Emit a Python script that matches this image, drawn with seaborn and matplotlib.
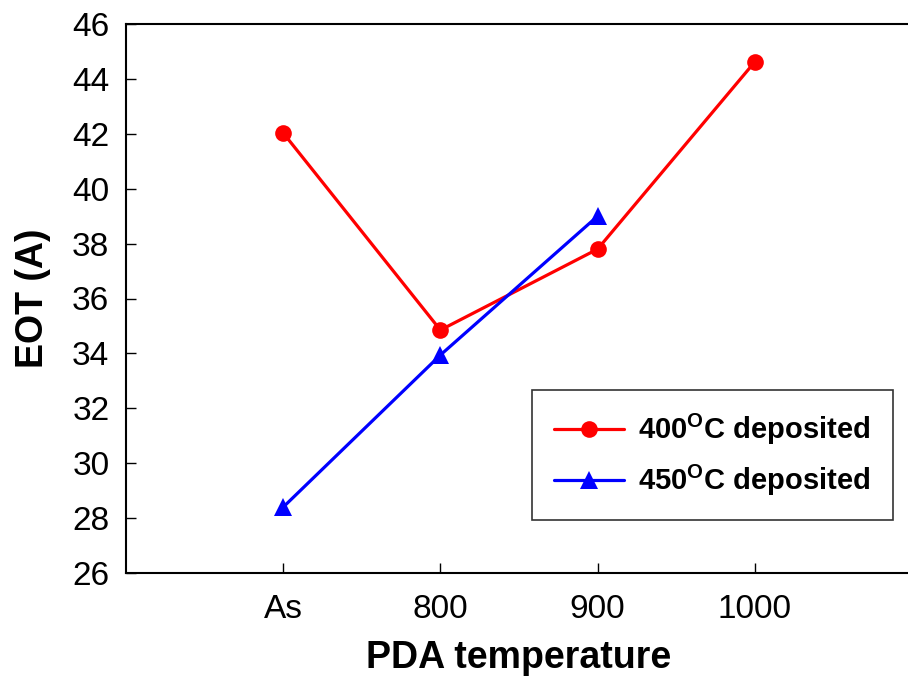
import matplotlib
matplotlib.use("Agg")
import matplotlib.pyplot as plt
import seaborn as sns
import pandas as pd

categories = ["As", "800", "900", "1000"]
eot_400 = [42.03, 34.85, 37.8, 44.62]
eot_450 = [28.4, 33.94, 39.0]
labels = ["400$^{\\mathbf{O}}$C deposited", "450$^{\\mathbf{O}}$C deposited"]
yticks = list(range(26, 47, 2))

sns.set_theme(style="white")
plt.rcParams['font.family'] = ['Liberation Sans', 'DejaVu Sans']
plt.rcParams['mathtext.fontset'] = 'custom'
plt.rcParams['mathtext.bf'] = 'Liberation Sans:bold'
plt.rcParams['mathtext.rm'] = 'Liberation Sans:bold'
plt.rcParams['text.color'] = 'black'
plt.rcParams['axes.labelcolor'] = 'black'
plt.rcParams['xtick.color'] = 'black'
plt.rcParams['ytick.color'] = 'black'

df1 = pd.DataFrame({"x": list(range(len(eot_400))), "y": eot_400})
df2 = pd.DataFrame({"x": list(range(len(eot_450))), "y": eot_450})

fig = plt.figure(figsize=(9.08, 6.82), dpi=100)
ax = fig.add_axes([126/908, 1 - 573/682, (912-126)/908, (573-24)/682])

sns.lineplot(data=df1, x="x", y="y", ax=ax, color="#ff0000", marker="o",
             markersize=12, markeredgewidth=0, linewidth=2.3, label=labels[0])
sns.lineplot(data=df2, x="x", y="y", ax=ax, color="#0000ff", marker="^",
             markersize=13, markeredgewidth=0, linewidth=2.3, label=labels[1])

ax.set_xlim(-1, 4)
ax.set_ylim(26, 46)
ax.set_xticks(range(len(categories)))
ax.set_xticklabels(categories)
ax.set_yticks(yticks)
ax.tick_params(direction="in", length=7, width=1, labelsize=24,
               bottom=True, left=True, top=False, right=False, colors="black")
ax.tick_params(axis="x", pad=15)
ax.tick_params(axis="y", pad=12)
for s in ax.spines.values():
    s.set_color("black")
    s.set_linewidth(1.5)
ax.set_xlabel("PDA temperature", fontsize=27, fontweight="bold", labelpad=11)
ax.set_ylabel("EOT (A)", fontsize=27, fontweight="bold", labelpad=15)

leg = ax.legend(loc="upper left", bbox_to_anchor=((532-126)/786, (573-390)/549),
                prop={"weight": "bold", "size": 21}, frameon=True, fancybox=False,
                edgecolor="black", handlelength=2.4, borderpad=0.75, labelspacing=0.55,
                handletextpad=0.5, borderaxespad=0)
leg.get_frame().set_linewidth(1.2)

fig.savefig("out.png", dpi=100)
